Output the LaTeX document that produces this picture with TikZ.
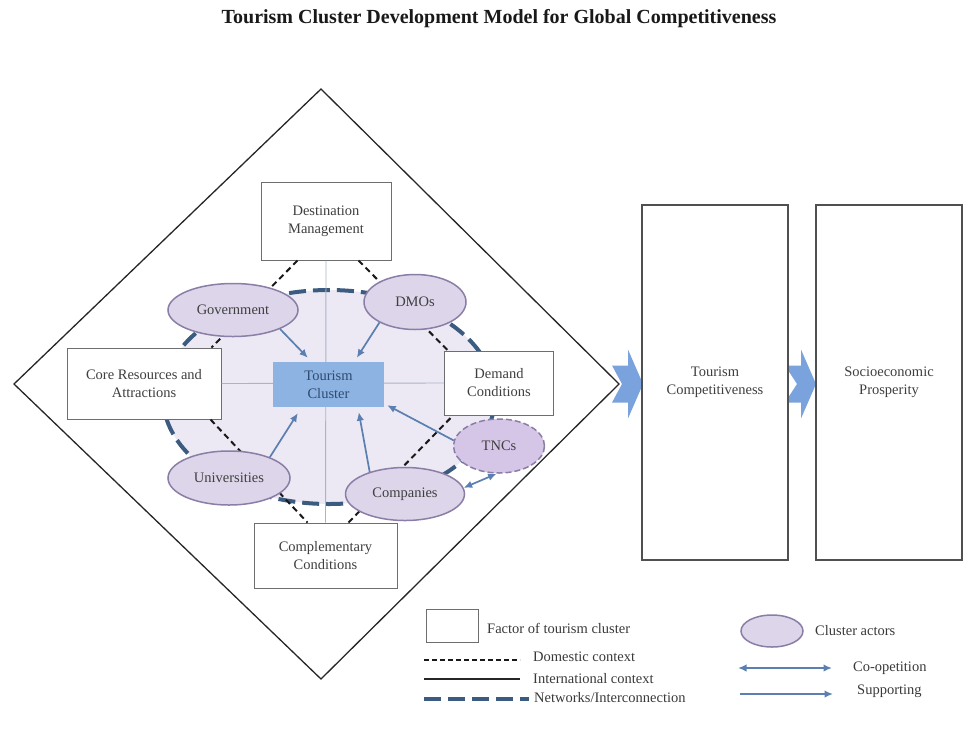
\documentclass[tikz,border=0pt]{standalone}
\usepackage{fontspec}
\setmainfont{Liberation Serif}
\usetikzlibrary{arrows.meta,shapes.geometric,calc}
\definecolor{textgray}{HTML}{3F3F3F}
\definecolor{boxgray}{HTML}{6E6E6E}
\definecolor{bigbox}{HTML}{505050}
\definecolor{lavbg}{HTML}{ECE9F4}
\definecolor{actorfill}{HTML}{DDD5EA}
\definecolor{actorline}{HTML}{8A7EA6}
\definecolor{tncfill}{HTML}{D5C5E6}
\definecolor{netblue}{HTML}{3B5B80}
\definecolor{arrblue}{HTML}{5A7FB0}
\definecolor{tcfill}{HTML}{8DB3E2}
\definecolor{tctext}{HTML}{2E4A70}
\definecolor{blockblue}{HTML}{7AA2DC}
\definecolor{crossline}{HTML}{A8B4C8}
\begin{document}
\begin{tikzpicture}[x=1pt,y=-1pt,
  txt/.style={font=\fontsize{14.5}{18}\selectfont, text=textgray},
  factor/.style={txt, draw=boxgray, line width=1pt, fill=white, align=center, inner sep=0pt},
  bigfactor/.style={txt, draw=bigbox, line width=1.8pt, fill=white, align=center, inner sep=0pt, minimum width=146pt, minimum height=355pt},
  actor/.style={txt, ellipse, draw=actorline, line width=1.5pt, fill=actorfill, inner sep=0pt},
  domestic/.style={draw=black!90, line width=2pt, dash pattern=on 6pt off 4pt},
  intl/.style={draw=black!85, line width=1.3pt},
  network/.style={draw=netblue, line width=4pt, dash pattern=on 17pt off 7pt},
  support/.style={draw=arrblue, line width=1.7pt, -{Latex[length=8.5pt,width=7.5pt]}},
  coop/.style={draw=arrblue, line width=1.7pt, {Latex[length=8.5pt,width=7.5pt]}-{Latex[length=8.5pt,width=7.5pt]}},
  legtext/.style={txt, text=textgray!90!black, anchor=west, inner sep=0pt}
]
\useasboundingbox (0,0) rectangle (973,742);

% title
\node[font=\fontsize{20}{24}\selectfont\bfseries, text=black!90, anchor=base] (title) at (499,23) {Tourism Cluster Development Model for Global Competitiveness};

% big right boxes (positions)
\coordinate (tcompc) at (715,382.5);
\coordinate (socioc) at (889,382.5);

% block arrows (drawn first)
\coordinate (tip1) at (643,384);
\coordinate (tip2) at (816,384);
\foreach \t/\n in {tip1/21,tip2/19}{
  \fill[blockblue] ($(\t)+(-31,-18.5)$) -- ($(\t)+(-15,-18.5)$) -- ($(\t)+(-15,-34.5)$) -- (\t)
     -- ($(\t)+(-15,34.5)$) -- ($(\t)+(-15,18.5)$) -- ($(\t)+(-31,18.5)$) -- ($(\t)+(-\n,0)$) -- cycle;
}

% diamond (international context)
\coordinate (dl) at (14,384);
\coordinate (dt) at (321,89);
\coordinate (dr) at (619,384);
\coordinate (db) at (321,679);
\draw[intl, line join=miter] (dl) -- (dt) -- (dr) -- (db) -- cycle;

% background of cluster and network ellipse
\fill[lavbg] (329,397) ellipse [x radius=166pt, y radius=107pt];
\draw[network] (329,397) ellipse [x radius=166pt, y radius=107pt];

% factor boxes
\node[factor, minimum width=130pt, minimum height=78pt] (dest) at (326,221) {Destination\\Management};
\node[factor, minimum width=154pt, minimum height=71pt] (core) at (144,383.5) {Core Resources and\\Attractions};
\node[factor, minimum width=109pt, minimum height=64pt] (demand) at (499,383) {Demand\\Conditions};
\node[factor, minimum width=143pt, minimum height=65pt] (comp) at (325.5,555.5) {Complementary\\Conditions};

% cross lines
\draw[crossline, line width=0.9pt] (dest.south) -- (comp.north);
\draw[crossline, line width=0.9pt] (core.east) -- (demand.west);

% domestic context lines
\draw[domestic] ([xshift=37pt]dest.south west) -- ([xshift=-10pt]core.north east);
\draw[domestic] ([xshift=-33pt]dest.south east) -- ([xshift=4pt]demand.north west);
\draw[domestic] ([xshift=-11pt]core.south east) -- ([xshift=54pt]comp.north west);
\draw[domestic] ([xshift=-49pt]comp.north east) -- ([xshift=9pt]demand.south west);

% tourism cluster
\node[txt, fill=tcfill, text=tctext, align=center, inner sep=0pt, minimum width=111pt, minimum height=45pt] (tc) at (328.5,384.5) {Tourism\\Cluster};

% cluster actors
\node[actor, minimum width=130pt, minimum height=53pt] (gov) at (233,310) {Government};
\node[actor, minimum width=102pt, minimum height=55pt] (dmo) at (415,302) {DMOs};
\node[actor, minimum width=122pt, minimum height=54pt] (uni) at (229,478) {Universities};
\node[actor, minimum width=119pt, minimum height=53pt] (cpy) at (405,494) {Companies};
\node[actor, fill=tncfill, dash pattern=on 6pt off 3pt, minimum width=91pt, minimum height=54pt] (tnc) at (499,446) {TNCs};

% supporting arrows
\draw[support] (gov.-22) -- ([xshift=35pt,yshift=4pt]tc.north west);
\draw[support] (dmo.-150) -- ([xshift=84pt,yshift=4pt]tc.north west);
\draw[support] (uni.27) -- ([xshift=25pt,yshift=-6pt]tc.south west);
\draw[support] (cpy.148) -- ([xshift=86pt,yshift=-5pt]tc.south west);
\draw[support] (tnc.173) -- ([xshift=3pt,yshift=2pt]tc.south east);
\draw[coop] (cpy.6) -- (tnc.-95);

% outcome boxes
\node[bigfactor] (tcomp) at (tcompc) {Tourism\\Competitiveness};
\node[bigfactor] (socio) at (socioc) {Socioeconomic\\Prosperity};

% legend left
\node[factor, minimum width=52pt, minimum height=33pt] (lgbox) at (452,625.5) {};
\node[legtext] (lgboxt) at (487,628) {Factor of tourism cluster};
\coordinate (ld1) at (424,660); \coordinate (ld2) at (520,660);
\draw[domestic, line width=1.6pt, dash pattern=on 5pt off 3pt] (ld1) -- (ld2);
\node[legtext] (ldt) at (533,657) {Domestic context};
\coordinate (li1) at (424,679); \coordinate (li2) at (520,679);
\draw[intl, line width=1.6pt] (li1) -- (li2);
\node[legtext] (lit) at (533,679) {International context};
\coordinate (ln1) at (424,699); \coordinate (ln2) at (529,699);
\draw[network] (ln1) -- (ln2);
\node[legtext] (lnt) at (534,698) {Networks/Interconnection};

% legend right
\node[actor, minimum width=62pt, minimum height=32pt] (lgact) at (772,631) {};
\node[legtext] (lgactt) at (815,631) {Cluster actors};
\coordinate (lc1) at (738,668); \coordinate (lc2) at (832,668);
\draw[coop] (lc1) -- (lc2);
\node[legtext] (lct) at (853,668) {Co-opetition};
\coordinate (ls1) at (740,694); \coordinate (ls2) at (833,694);
\draw[support] (ls1) -- (ls2);
\node[legtext] (lst) at (857,691) {Supporting};
\end{tikzpicture}
\end{document}
